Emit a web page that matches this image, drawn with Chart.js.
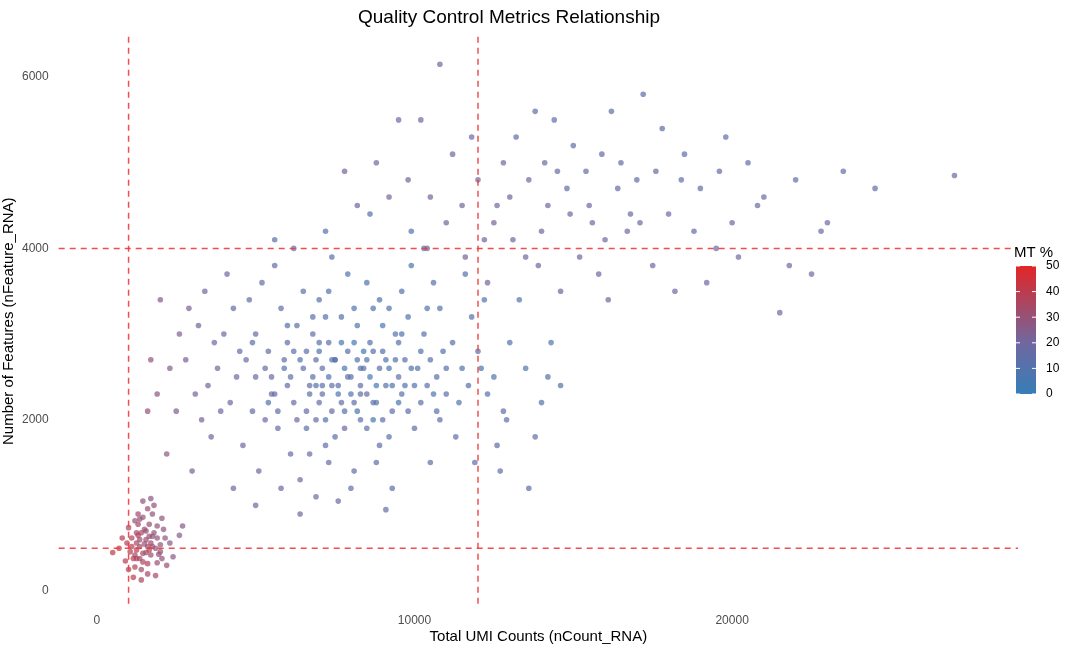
<!DOCTYPE html>
<html><head><meta charset="utf-8">
<script src="https://cdn.jsdelivr.net/npm/chart.js@4"></script>
<style>html,body{margin:0;background:#fff}#w{width:1080px;height:648px}</style>
</head><body><div id="w"><canvas id="c"></canvas></div>
<script>
// [UMI counts, features, MT %]
const lowCluster = [
[1500,550,30],[1200,420,35],[1800,680,28],[1350,600,32],[1650,480,38],[900,350,40],[2100,720,27],[1400,250,33],[1750,900,29],[1100,620,36],
[1950,430,31],[1300,780,34],[1600,320,37],[2300,560,26],[700,500,42],[1450,1050,30],[1850,180,35],[1250,480,39],[2050,850,28],[1550,700,31],
[1000,250,38],[1700,560,33],[1200,820,30],[2400,400,27],[1900,620,29],[1400,130,36],[1600,960,32],[800,620,40],[2200,300,30],[1350,380,34],
[1500,720,31],[1050,460,37],[1800,1000,28],[2600,650,25],[1150,160,39],[1700,420,33],[1250,680,35],[2000,540,29],[1450,860,30],[1600,200,34],
[500,450,41],[2700,760,26],[1350,520,32],[1900,330,31],[1000,740,36],[1550,600,33],[1250,560,35],[1750,640,30],[1450,440,34],[1650,780,31],
[1150,380,37],[2150,620,28],[1300,900,33],[1850,500,30],[950,560,38],[1600,520,32],[1400,680,34],[2050,380,29],[1200,280,36],[1700,1080,28],
[1550,450,33],[1300,650,36],[1750,520,31],[1100,520,38],[1900,760,29],[1450,340,35],[1650,640,32],[1350,840,31],[2000,460,30],[1250,380,37]];
const mainCluster = [
[8000,2500,14],[7500,2700,12],[8500,2300,16],[6500,2600,15],[9000,2800,11],[7000,2200,17],[9500,2500,13],[6000,2900,14],[10000,2400,12],[5500,2300,16],
[8200,3100,10],[7800,1900,18],[6800,3000,13],[9300,2100,15],[10500,2700,11],[5000,2500,17],[11000,2300,14],[4500,2800,15],[7200,1700,16],[8700,3300,9],
[6300,2000,18],[9800,3200,10],[5800,3300,13],[10800,2000,15],[4200,2200,19],[7600,2400,12],[8400,2600,14],[6700,2400,16],[9100,2400,11],[7300,2900,13],
[5300,2000,18],[11500,2600,12],[3800,2600,20],[12500,2500,10],[6100,1600,17],[8900,1700,14],[7000,3400,12],[9600,3500,9],[5200,3600,15],[10300,3000,11],
[4000,3000,19],[11800,3200,12],[3300,2000,22],[12800,2100,13],[6400,1300,18],[8100,1400,15],[7900,3700,10],[5600,3800,14],[10600,3600,11],[4600,1700,19],
[11300,1800,13],[3500,2400,21],[13500,2600,9],[2800,2700,23],[14000,2200,11],[6900,1100,17],[9300,1200,14],[7400,3900,12],[4800,3400,16],[12200,3400,10],
[8300,2000,13],[7700,2200,15],[6200,2200,16],[9700,2700,12],[8600,2900,11],[7100,2600,14],[5900,2700,15],[10200,2200,13],[8800,2200,14],[6600,2800,13],
[7900,2800,12],[9400,3000,10],[5400,2800,16],[10700,2500,12],[6000,2400,15],[8300,2400,13],[7400,2100,16],[9000,2000,15],[6900,2000,17],[8500,3600,9],
[4400,2500,18],[11200,2900,11],[3100,2300,22],[13000,2900,10],[4900,2100,17],[12000,2800,11],[5700,1900,17],[10000,1900,14],[7300,1500,17],[8800,1500,15],
[6500,3500,13],[9900,3800,9],[4300,3300,17],[11600,3700,11],[3700,2900,20],[12600,1700,14],[5100,1400,19],[10500,1500,15],[2500,2100,24],[14300,2900,10],
[5000,1000,19],[9100,950,16],[6200,4000,13],[10300,4000,11],[3400,3500,20],[13300,3400,10],[2300,2600,25],[14600,2400,11],[8000,1200,16],[7600,1050,18],
[2200,1600,27],[3000,1400,23],[13800,1800,13],[4100,3700,18],[6700,1600,17],[8500,1900,15],[9600,2300,12],[7000,2900,13],[5300,2600,16],[11000,2600,12],
[8200,2700,12],[7700,3200,11],[6300,3100,13],[9200,3300,10],[10800,3300,11],[5000,3000,16],[4700,2700,17],[11700,2400,12],[12300,2300,12],[3900,2100,20],
[8900,2600,12],[6800,2500,14],[7400,2400,13],[9400,2700,12],[8100,2200,14],[5600,2300,16],[10100,2600,12],[6100,2500,15],[7200,3200,11],[9800,2100,14],
[2600,3000,24],[3200,3100,22],[3600,1800,21],[4300,1200,20],[5800,1200,18],[11900,1500,14],[12700,1400,15],[13600,1200,14],[12900,2000,13],[14200,2500,11],
[1900,2300,28],[1700,2700,29],[2000,3400,26],[1600,2100,30],[2900,3300,23],[5600,4100,14],[7200,4200,12],[8600,4400,11],[9900,4200,10],[6400,900,18],
[7500,2700,13],[8300,2300,14],[6600,2100,16],[9500,2900,11],[7900,2500,13],[8700,2800,12],[6900,2700,14],[10400,2400,12],[5500,2500,16],[7100,2300,15],
[7800,2600,6],[8600,2500,5],[9200,2600,7],[7300,2500,8],[8100,2900,5],[8800,2400,6],[9700,2400,7],[6900,2400,9],[8400,2800,4],[7600,2300,7],
[9000,3100,6],[10200,2800,8],[6400,2700,9],[8200,2100,8],[9500,2200,7],[7000,2800,9],[10600,2300,8],[5900,2600,10],[8700,2000,7],[7700,2900,6],
[8300,2600,11],[7400,2700,10],[9300,2400,9],[6700,2300,11],[8000,2300,10],[9100,2700,9],[7100,2400,12],[8500,2700,10],[6200,2800,12],[9900,2600,9],
[5400,2200,12],[10900,2800,9],[6600,1900,13],[11400,2200,10],[4900,2900,14],[12100,2600,8],[7500,1800,12],[8900,3400,8],[6000,3100,12],[10400,3300,9],
[7800,2100,11],[8700,2200,10],[7200,2000,12],[9600,3000,9],[8100,3300,10],[6800,3200,12],[5700,2100,14],[10700,2100,11],[7300,3500,10],[9200,1800,12]];
const highCluster = [
[15500,4500,18],[14000,4200,20],[17000,4800,17],[13000,4600,21],[16000,4100,19],[18000,4400,18],[14500,4900,16],[12500,4300,22],[19000,4700,17],[15000,5200,15],
[13500,3900,21],[16500,5000,16],[20000,4300,18],[12000,4800,20],[17500,3800,19],[14800,4700,17],[11500,4500,21],[18500,5100,15],[13200,5300,16],[21000,4600,17],
[15800,3700,20],[12800,5000,19],[19500,4000,18],[16800,4400,17],[11200,5100,19],[14200,4500,18],[22000,4800,16],[17800,5400,14],[13800,5600,15],[20500,5000,16],
[10800,6150,20],[27000,4850,17],[21500,3250,19],[22500,3700,18],[18200,3500,20],[15200,3900,19],[12300,3600,22],[16200,5600,15],[17200,5800,14],[11800,5300,18],
[19800,5300,15],[23000,4300,18],[14600,3500,21],[13100,4100,20],[15600,4300,18],[17600,4900,16],[12600,4500,20],[18800,4200,17],[16400,4700,17],[14100,5000,17],
[10500,4600,22],[10200,5500,19],[11000,4300,21],[20800,4500,17],[21800,3800,18],[24500,4700,16],[9800,4800,21],[9200,4600,22],[8800,5000,20],[19200,3600,19],
[13600,4800,18],[15400,4900,17],[16700,4200,18],[14900,4400,19],[12200,4100,21],[18400,4800,16],[17100,4300,18],[13900,3800,20],[15900,5100,16],[11600,3900,22],
[8200,4500,21],[9500,5500,18],[10400,4000,21],[7800,4900,22],[23500,4900,16],[22800,4200,18],[20200,3900,19],[19600,4900,16],[16100,3400,21],[14400,5500,15]];
const mtTicks = [0,10,20,30,40,50];
const xTicks = [0,10000,20000], yTicks = [0,2000,4000,6000];
const cutX = [1000,12000], cutY = [500,4000];

function mtColor(v,a){const t=Math.max(0,Math.min(1,v/50));
  const c0=[55,126,184],c1=[112,104,160],c2=[226,38,38];let r,g,b;
  if(t<0.4){const u=t/0.4;r=c0[0]+(c1[0]-c0[0])*u;g=c0[1]+(c1[1]-c0[1])*u;b=c0[2]+(c1[2]-c0[2])*u;}
  else{const u=(t-0.4)/0.6;r=c1[0]+(c2[0]-c1[0])*u;g=c1[1]+(c2[1]-c1[1])*u;b=c1[2]+(c2[2]-c1[2])*u;}
  return `rgba(${r|0},${g|0},${b|0},${a})`;}
const all=[...lowCluster,...mainCluster,...highCluster];
const pts=all.map(p=>({x:p[0],y:p[1]}));
const cols=all.map(p=>mtColor(p[2],0.7));

const extras={id:'extras',
 afterDatasetsDraw(ch){const {ctx,chartArea:a,scales:{x,y}}=ch;ctx.save();
  ctx.strokeStyle='rgba(240,60,60,0.9)';ctx.lineWidth=1.5;ctx.setLineDash([6,5]);
  cutX.forEach(v=>{const px=x.getPixelForValue(v);ctx.beginPath();ctx.moveTo(px,a.top);ctx.lineTo(px,a.bottom);ctx.stroke();});
  cutY.forEach(v=>{const py=y.getPixelForValue(v);ctx.beginPath();ctx.moveTo(a.left,py);ctx.lineTo(a.right,py);ctx.stroke();});
  ctx.restore();
  const bx=1016,bw=20,top=266,bot=394;ctx.save();
  const g=ctx.createLinearGradient(0,bot,0,top);
  for(let i=0;i<=10;i++)g.addColorStop(i/10,mtColor(i*5,1));
  ctx.fillStyle=g;ctx.fillRect(bx,top,bw,bot-top);
  ctx.fillStyle='#000';ctx.font='15px "Liberation Sans", Arial';ctx.textBaseline='alphabetic';ctx.fillText('MT %',1014,257);
  ctx.font='12px "Liberation Sans", Arial';ctx.textBaseline='middle';ctx.strokeStyle='#fff';ctx.lineWidth=1;
  mtTicks.forEach(v=>{const py=bot-(bot-top)*v/50;ctx.fillText(String(v),1046,py);
    ctx.beginPath();ctx.moveTo(bx,py);ctx.lineTo(bx+4,py);ctx.moveTo(bx+bw-4,py);ctx.lineTo(bx+bw,py);ctx.stroke();});
  ctx.restore();}};

new Chart(document.getElementById('c'),{type:'scatter',
 data:{datasets:[{data:pts,pointBackgroundColor:cols,pointBorderWidth:0,pointRadius:2.8,pointHoverRadius:2.8}]},
 options:{responsive:true,maintainAspectRatio:false,animation:false,
  layout:{padding:{left:0,right:62,top:2,bottom:0}},
  plugins:{legend:{display:false},tooltip:{enabled:false},
   title:{display:true,text:'Quality Control Metrics Relationship',color:'#000',font:{size:19,family:'"Liberation Sans", Arial',weight:'normal'},padding:{top:4,bottom:8}}},
  scales:{
   x:{type:'linear',min:-1200,max:29000,grid:{display:false},border:{display:false},
    afterBuildTicks(s){s.ticks=xTicks.map(v=>({value:v}));},
    ticks:{color:'#4d4d4d',padding:0,font:{size:12,family:'"Liberation Sans", Arial'},callback:v=>String(v)},
    title:{display:true,text:'Total UMI Counts (nCount_RNA)',color:'#000',font:{size:15,family:'"Liberation Sans", Arial'},padding:{top:0,bottom:2}}},
   y:{type:'linear',min:-170,max:6470,grid:{display:false},border:{display:false},
    afterBuildTicks(s){s.ticks=yTicks.map(v=>({value:v}));},
    ticks:{color:'#4d4d4d',padding:2,font:{size:12,family:'"Liberation Sans", Arial'},callback:v=>String(v)},
    title:{display:true,text:'Number of Features (nFeature_RNA)',color:'#000',font:{size:15,family:'"Liberation Sans", Arial'},padding:{top:0,bottom:2}}}}},
 plugins:[extras]});
</script></body></html>
